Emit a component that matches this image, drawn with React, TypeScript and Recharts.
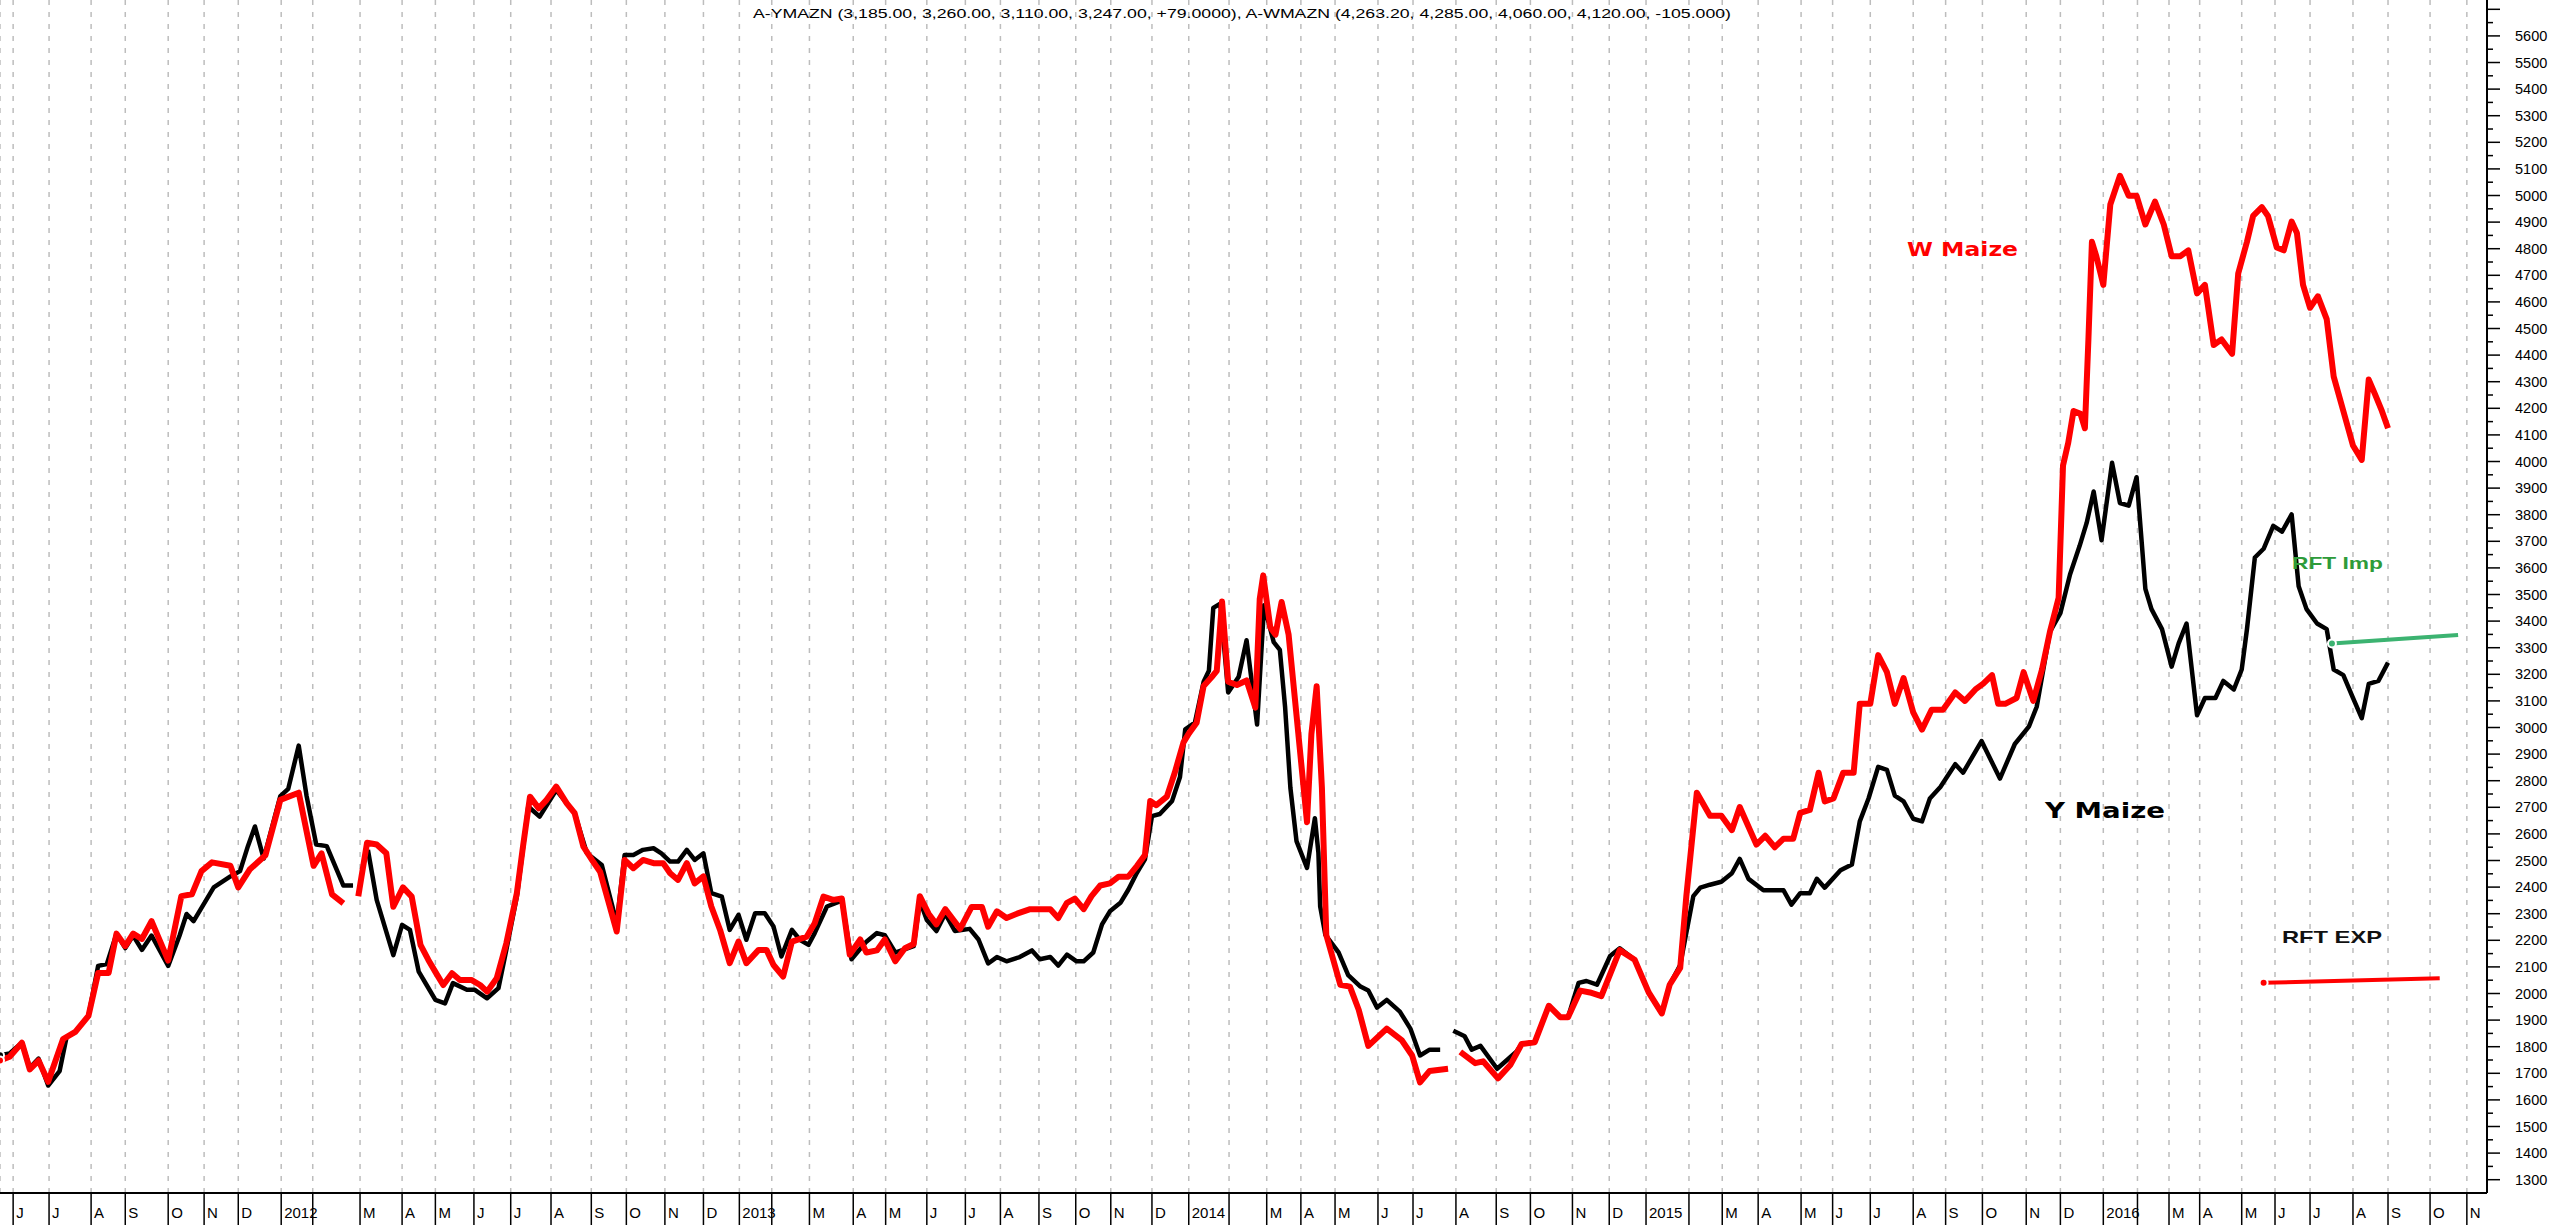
import { LineChart, Line, XAxis, YAxis, CartesianGrid } from 'recharts';

// weekly chart: x is the bar (week) number from the left edge, prices in R/ton

// A-YMAZN (yellow maize)
const yWeek = [
  0, 1.1, 2.5, 3.4, 4.4, 5.5, 6.8, 7.6, 8.6, 10.1, 11.2, 12.2, 13.3, 14.3, 15.2, 16.2, 17.3, 19.2, 20.5, 21.3,
  22.1, 24.4, 26.3, 27.4, 28.3, 29.1, 30.1, 32.0, 32.9, 34.1, 35.0, 36.1, 37.3, 39.2, 40.3, 41.1,
  42.0, 43.0, 44.9, 45.9, 46.8, 47.8, 48.7, 49.7, 50.8, 51.7, 53.3, 54.2, 55.6, 56.9, 57.8, 59.0, 60.3, 61.6,
  63.5, 64.7, 65.6, 67.0, 68.7, 70.4, 71.3, 72.3, 73.4, 74.6, 75.5, 76.5, 77.4, 78.4, 79.3, 80.3, 81.2, 82.4,
  83.3, 84.3, 85.2, 86.2, 87.3, 88.3, 89.2, 90.4, 91.3, 92.3, 93.0, 94.4, 96.1, 97.2, 98.9, 100.1, 101.0,
  102.2, 104.3, 105.0, 105.8, 106.9, 107.9, 109.0, 110.7, 111.7, 112.8, 113.8, 114.9, 116.4, 117.8, 118.7,
  119.9, 120.8, 121.8, 122.9, 123.7, 124.8, 125.8, 126.7, 127.9, 128.8, 129.8, 130.7, 131.5, 132.4, 133.8,
  134.7, 135.3, 136.4, 137.4, 138.0, 138.5, 139.3, 140.2, 141.4, 142.3, 143.5, 144.3, 145.4, 146.1, 146.7,
  147.3, 148.0, 149.2, 150.1, 150.5, 150.7, 151.3, 152.8, 153.9, 155.3, 156.2, 157.2, 158.3, 159.8, 161.0,
  162.1, 163.2, 164.4, 165.1,
  165.9, 167.2, 168.0, 169.0, 170.9, 173.1, 173.7, 175.2, 176.8, 178.1, 179.0, 180.2, 181.1, 182.3, 183.8,
  184.9, 186.6, 188.2, 189.7, 190.6, 191.8, 193.3, 194.1, 195.2, 196.5, 197.7, 198.6, 199.6, 201.3, 203.6,
  204.5, 205.5, 206.6, 207.4, 208.3, 210.1, 211.4, 212.3, 213.3, 214.4, 215.4, 216.3, 217.3, 218.4, 219.4,
  220.3, 221.5, 223.2, 224.1, 226.2, 228.3, 230.0, 231.6, 232.5, 234.0, 235.2, 236.3, 237.4, 238.2, 239.0,
  239.9, 241.1, 242.0, 243.0, 243.9, 244.9, 245.6, 246.8, 247.9, 248.7, 249.6, 250.8, 251.7, 252.9, 253.8,
  255.0, 255.9, 256.5, 257.4, 258.4, 259.5, 260.5, 261.6, 262.4, 263.3, 264.5, 265.6, 266.4, 267.5, 268.6,
  269.6, 270.4, 271.5, 272.6,
];
const yPrice = [
  1768, 1775, 1815, 1721, 1755, 1654, 1708, 1836, 1856, 1916, 2104, 2111, 2225, 2171, 2218, 2164, 2218, 2104, 2218, 2299,
  2272, 2399, 2440, 2460, 2554, 2628, 2507, 2742, 2769, 2932, 2742, 2560, 2554, 2406, 2406, null,
  2540, 2352, 2144, 2258, 2239, 2082, 2032, 1976, 1963, 2039, 2014, 2014, 1982, 2020, 2164, 2364, 2703, 2665,
  2765, 2715, 2678, 2527, 2483, 2264, 2521, 2521, 2540, 2546, 2527, 2496, 2496, 2540, 2502, 2527, 2377, 2364,
  2239, 2296, 2202, 2302, 2302, 2252, 2139, 2239, 2202, 2183, 2227, 2327, 2349, 2129, 2195, 2227, 2219,
  2154, 2178, 2349, 2276, 2235, 2300, 2235, 2243, 2203, 2113, 2137, 2121, 2137, 2162, 2129,
  2137, 2105, 2146, 2121, 2121, 2154, 2260, 2309, 2341, 2390, 2455, 2504, 2667, 2675, 2724,
  2814, 2993, 3018, 3172, 3213, 3450, 3466, 3132, 3191, 3328, 3011, 3460, 3321, 3292, 3076,
  2774, 2573, 2472, 2659, 2529, 2328, 2220, 2155, 2069, 2026, 2011, 1947, 1976, 1932, 1868,
  1767, 1789, 1789, null,
  1860, 1839, 1789, 1803, 1717, 1781, 1810, 1817, 1954, 1911, 1911, 2040, 2047, 2033, 2141,
  2170, 2127, 2004, 1925, 2033, 2107, 2366, 2398, 2409, 2420, 2452, 2506, 2431, 2388, 2388,
  2334, 2377, 2377, 2431, 2398, 2463, 2485, 2647, 2733, 2852, 2841, 2744, 2722, 2657, 2647,
  2733, 2776, 2862, 2830, 2949, 2808, 2938, 3003, 3078, 3359, 3430, 3575, 3683, 3769, 3887,
  3704, 3995, 3844, 3834, 3941, 3521, 3445, 3370, 3229, 3316, 3391, 3046, 3111, 3111, 3175,
  3143, 3218, 3370, 3639, 3672, 3758, 3736, 3801, 3531, 3445, 3391, 3370, 3218, 3197, 3111,
  3035, 3164, 3175, 3244,
];

// A-WMAZN (white maize)
const wWeek = [
  0, 1.1, 2.5, 3.4, 4.4, 5.5, 7.2, 8.6, 10.1, 11.2, 12.4, 13.3, 14.3, 15.2, 16.2, 17.3, 19.2, 20.7, 21.9, 23.0,
  24.2, 26.3, 27.2, 28.5, 30.3, 32.0, 34.1, 35.8, 36.7, 37.9, 39.2, 40.0,
  40.9, 41.9, 43.0, 44.1, 44.9, 46.0, 47.0, 48.0, 48.9, 49.9, 50.6, 51.6, 52.5, 53.8, 54.8, 55.6, 56.7, 57.8,
  59.0, 59.7, 60.5, 61.5, 62.4, 63.5, 64.7, 65.6, 66.6, 67.7, 68.5, 69.4, 70.4, 71.3, 72.3, 73.4, 74.6, 75.7,
  76.5, 77.4, 78.4, 79.3, 80.3, 81.2, 82.2, 83.3, 84.3, 85.2, 86.6, 87.5, 88.3, 89.4, 90.4, 92.1, 93.0, 94.0,
  95.1, 96.1, 97.0, 98.2, 98.9, 100.1, 101.0, 102.2, 103.3, 104.3, 105.0, 106.0, 106.9, 107.9, 109.6, 110.9,
  112.1, 112.8, 113.8, 114.9, 116.1, 117.6, 119.9, 120.8, 121.8, 122.7, 123.7, 124.6, 125.6, 126.7, 127.7,
  128.8, 129.8, 130.7, 131.3, 132.0, 133.2, 134.1, 135.1, 135.7, 136.6, 137.4, 138.3, 138.9, 139.5, 140.2,
  141.2, 142.3, 143.3, 143.8, 144.2, 145.0, 145.6, 146.3, 147.1, 149.2, 149.7, 150.3, 150.9, 151.4, 153.0,
  154.1, 155.1, 156.2, 158.3, 160.0, 161.2, 162.1, 163.2, 165.3, 166.0,
  166.7, 168.4, 169.3, 171.0, 172.4, 173.7, 175.2, 176.8, 178.1, 179.0, 180.4, 181.5, 182.8, 184.9, 186.6,
  188.2, 189.7, 190.6, 191.8, 192.5, 193.7, 195.2, 196.5, 197.7, 198.6, 200.5, 201.5, 202.6, 203.6, 204.7,
  205.5, 206.6, 207.6, 208.3, 209.3, 210.4, 211.6, 212.3, 213.5, 214.4, 215.4, 216.3, 217.3, 218.4, 219.4,
  220.5, 221.8, 223.2, 224.3, 225.5, 226.4, 227.4, 228.1, 228.9, 230.2, 231.0, 232.1, 233.1, 234.0, 235.0,
  235.5, 236.1, 236.7, 237.5, 238.0, 238.4, 238.8, 239.3, 240.1, 240.9, 242.0, 243.0, 243.9, 244.9, 246.0,
  247.0, 247.9, 248.9, 249.8, 250.8, 251.7, 252.7, 253.6, 254.8, 255.5, 256.5, 257.2, 258.2, 258.9, 259.9,
  260.7, 261.6, 262.2, 262.9, 263.7, 264.6, 265.6, 266.4, 267.5, 268.6, 269.6, 270.4, 271.1, 271.9, 272.6,
];
const wPrice = [
  1748, 1762, 1815, 1715, 1748, 1668, 1829, 1856, 1916, 2077, 2077, 2225, 2178, 2225, 2205, 2272, 2124, 2366, 2373, 2460,
  2493, 2480, 2399, 2466, 2520, 2728, 2755, 2480, 2527, 2373, 2339, null,
  2366, 2567, 2560, 2527, 2326, 2399, 2364, 2183, 2126, 2070, 2032, 2076, 2051, 2051, 2032, 2007, 2057, 2189,
  2377, 2552, 2740, 2696, 2728, 2778, 2715, 2678, 2552, 2496, 2458, 2352, 2233, 2502, 2471, 2502, 2490, 2490,
  2452, 2427, 2490, 2414, 2440, 2327, 2239, 2114, 2195, 2114, 2164, 2164, 2107, 2064, 2195, 2214, 2264, 2364,
  2352, 2357, 2146, 2203, 2154, 2162, 2203, 2121, 2170, 2186, 2366, 2300, 2260, 2317, 2243, 2325,
  2325, 2251, 2309, 2284, 2300, 2317, 2317, 2284, 2341, 2357, 2317, 2366, 2406, 2414, 2439,
  2439, 2480, 2521, 2724, 2708, 2740, 2830, 2944, 2977, 3018, 3156, 3189, 3213, 3474, 3172,
  3160, 3177, 3075, 3482, 3572, 3378, 3349, 3472, 3349, 2644, 2975, 3155, 2774, 2220, 2033,
  2026, 1939, 1803, 1868, 1825, 1767, 1666, 1709, 1717, null,
  1781, 1738, 1745, 1681, 1731, 1810, 1817, 1954, 1911, 1911, 2011, 2004, 1990, 2163, 2127,
  2004, 1925, 2033, 2096, 2366, 2755, 2668, 2668, 2614, 2701, 2560, 2593, 2550, 2582, 2582,
  2679, 2690, 2830, 2722, 2733, 2830, 2830, 3089, 3089, 3272, 3208, 3089, 3186, 3057, 2992,
  3067, 3067, 3132, 3100, 3143, 3165, 3197, 3089, 3089, 3111, 3208, 3100, 3218, 3359, 3488,
  3985, 4071, 4190, 4179, 4125, 4459, 4826, 4772, 4664, 4966, 5074, 4999, 4999, 4891, 4977,
  4891, 4772, 4772, 4794, 4632, 4664, 4438, 4459, 4405, 4707, 4826, 4923, 4956, 4923, 4805,
  4794, 4902, 4859, 4664, 4578, 4621, 4535, 4319, 4190, 4060, 4006, 4308, 4254, 4190, 4125,
];

// RFT import / export parity levels
const impWeek = [266.2, 280.6];
const impPrice = [3316, 3348];
const expWeek = [258.4, 278.5];
const expPrice = [2040, 2057];

// first bar of each month and its label
const monthWeek = [
  1.5, 5.6, 10.4, 14.3, 19.2, 23.3, 27.2, 32.1, 35.7, 41.1, 45.9, 49.7, 54.1, 58.3, 62.9, 67.5, 71.5, 75.9, 80.3,
  84.4, 88.1, 92.4, 97.4, 101.1, 105.8, 110.2, 114.2, 118.6, 122.8, 126.8, 131.5, 135.7, 140.3, 144.6, 148.5,
  152.4, 157.3, 161.3, 166.2, 170.8, 174.7, 179.5, 183.7, 187.9, 192.8, 196.6, 200.7, 205.6, 209.2, 213.5,
  218.4, 222.1, 226.3, 231.3, 235.2, 240.1, 244.0, 247.6, 251.1, 255.9, 259.7, 263.7, 268.6, 272.6, 277.4, 281.6,
];
const monthLabel = [
  'J', 'J', 'A', 'S', 'O', 'N', 'D', '2012', '', 'M', 'A', 'M', 'J', 'J', 'A', 'S', 'O', 'N', 'D',
  '2013', '', 'M', 'A', 'M', 'J', 'J', 'A', 'S', 'O', 'N', 'D', '2014', '', 'M', 'A',
  'M', 'J', 'J', 'A', 'S', 'O', 'N', 'D', '2015', '', 'M', 'A', 'M', 'J', 'J',
  'A', 'S', 'O', 'N', 'D', '2016', '', 'M', 'A', 'M', 'J', 'J', 'A', 'S', 'O', 'N',
];

const priceLabels = [
  1300, 1400, 1500, 1600, 1700, 1800, 1900, 2000, 2100, 2200, 2300, 2400, 2500, 2600, 2700, 2800, 2900, 3000,
  3100, 3200, 3300, 3400, 3500, 3600, 3700, 3800, 3900, 4000, 4100, 4200, 4300, 4400, 4500, 4600, 4700,
  4800, 4900, 5000, 5100, 5200, 5300, 5400, 5500, 5600,
];
const priceTicks = [...priceLabels, 5700].flatMap((p) => [p, p + 50]).filter((p) => p <= 5700);

const rows = (weeks: number[], prices: (number | null)[]) => weeks.map((i, k) => ({ i, v: prices[k] }));

const FONT = '"Liberation Sans", Arial, sans-serif';

function MonthTick(props: any) {
  const { x, y, payload } = props;
  const k = monthWeek.indexOf(payload.value);
  return (
    <g>
      <line x1={x} y1={y} x2={x} y2={y + 34} stroke="#000" strokeWidth={1.5} />
      <text x={x + 3} y={y + 25} fontSize={15} fontFamily={FONT} fill="#000">
        {monthLabel[k]}
      </text>
    </g>
  );
}

function PriceTick(props: any) {
  const { x, y, payload } = props;
  const major = payload.value % 100 === 0;
  return (
    <g>
      <line x1={x} y1={y} x2={x + (major ? 13 : 6)} y2={y} stroke="#000" strokeWidth={1.5} />
      {major && priceLabels.includes(payload.value) && (
        <text x={x + 28} y={y + 5} fontSize={14.5} fontFamily={FONT} fill="#000">
          {payload.value}
        </text>
      )}
    </g>
  );
}

export default function App() {
  return (
    <div style={{ position: 'relative', width: 2560, height: 1225, background: '#fff' }}>
      <style>{'body{margin:0}'}</style>
      <LineChart width={2560} height={1225} margin={{ top: 0, right: 0, bottom: 0, left: 0 }}>
        <CartesianGrid horizontal={false} stroke="#bdbdbd" strokeWidth={1.5} strokeDasharray="5 7" />
        <XAxis
          type="number"
          dataKey="i"
          domain={[0, 283.9]}
          ticks={monthWeek}
          interval={0}
          height={32}
          tickSize={0}
          tickMargin={0}
          tickLine={false}
          axisLine={{ stroke: '#000', strokeWidth: 2 }}
          tick={<MonthTick />}
          allowDataOverflow
        />
        <YAxis
          orientation="right"
          type="number"
          domain={[1250, 5735]}
          ticks={priceTicks}
          interval={0}
          width={73}
          tickSize={0}
          tickMargin={0}
          tickLine={false}
          axisLine={{ stroke: '#000', strokeWidth: 2 }}
          tick={<PriceTick />}
          allowDataOverflow
        />
        <Line data={rows(yWeek, yPrice)} dataKey="v" stroke="#000" strokeWidth={4.5} dot={false} isAnimationActive={false} strokeLinejoin="round" />
        <Line data={rows(wWeek, wPrice)} dataKey="v" stroke="#ff0000" strokeWidth={6} dot={false} isAnimationActive={false} strokeLinejoin="round" />
        <Line data={rows(impWeek, impPrice)} dataKey="v" stroke="#3cb371" strokeWidth={4} dot={false} isAnimationActive={false} />
        <Line data={rows(expWeek, expPrice)} dataKey="v" stroke="#ff0000" strokeWidth={4} dot={false} isAnimationActive={false} />
      </LineChart>
      <svg width={2560} height={1225} style={{ position: 'absolute', left: 0, top: 0, pointerEvents: 'none' }}>
        <text x={753} y={18} fontSize={13.5} fontFamily={FONT} fill="#000" textLength={978} lengthAdjust="spacingAndGlyphs">
          A-YMAZN (3,185.00, 3,260.00, 3,110.00, 3,247.00, +79.0000), A-WMAZN (4,263.20, 4,285.00, 4,060.00, 4,120.00, -105.000)
        </text>
        <text x={1907} y={256} fontSize={19} fontWeight="bold" fontFamily="DejaVu Sans, sans-serif" fill="#ff0000" textLength={111} lengthAdjust="spacingAndGlyphs">
          W Maize
        </text>
        <text x={2045} y={818} fontSize={21} fontWeight="bold" fontFamily="DejaVu Sans, sans-serif" fill="#000" textLength={120} lengthAdjust="spacingAndGlyphs">
          Y Maize
        </text>
        <text x={2292} y={569} fontSize={17} fontWeight="bold" fontFamily={FONT} fill="#2e9b3a" textLength={91} lengthAdjust="spacingAndGlyphs">
          RFT Imp
        </text>
        <text x={2282} y={943} fontSize={17} fontWeight="bold" fontFamily={FONT} fill="#111" textLength={100} lengthAdjust="spacingAndGlyphs">
          RFT EXP
        </text>
      </svg>
    </div>
  );
}
